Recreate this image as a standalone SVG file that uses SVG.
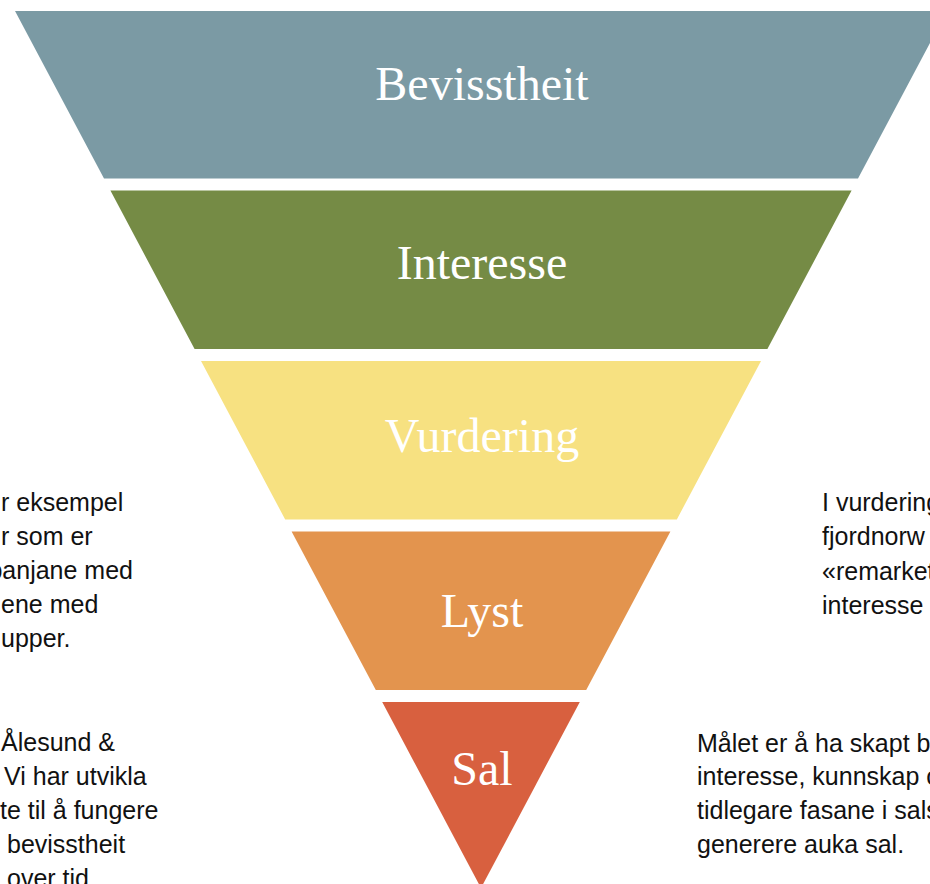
<svg xmlns="http://www.w3.org/2000/svg" width="930" height="884" viewBox="0 0 930 884">
<style>
.lbl{font-family:"Liberation Serif","Times New Roman",serif;font-size:48px;fill:#ffffff;text-anchor:middle}
.body{font-family:"Liberation Sans",Arial,sans-serif;font-size:25px;fill:#111111}
.end{text-anchor:end}
</style>
<rect x="0" y="0" width="930" height="884" fill="#ffffff"/>
<g id="bevisstheit">
<polygon points="15,11 947,11 858,178.5 104,178.5" fill="#7B9AA4"/>
<text class="lbl" x="482" y="100">Bevisstheit</text>
</g>
<g id="interesse">
<polygon points="110.4,190.5 851.6,190.5 767.4,349 194.6,349" fill="#758B45"/>
<text class="lbl" x="482" y="279">Interesse</text>
</g>
<g id="vurdering">
<polygon points="201,361 761,361 676.8,519.5 285.2,519.5" fill="#F7E181"/>
<text class="lbl" x="482" y="452">Vurdering</text>
</g>
<g id="lyst">
<polygon points="291.6,531.5 670.4,531.5 586.2,690 375.8,690" fill="#E3944E"/>
<text class="lbl" x="482" y="627">Lyst</text>
</g>
<g id="sal">
<polygon points="382.2,702 579.8,702 481,888" fill="#D8603F"/>
<text class="lbl" x="482" y="785">Sal</text>
</g>
<g id="connectors"></g>
<g id="left-text-1">
<text class="body" x="1" y="511">r eksempel</text>
<text class="body" x="1" y="545">r som er</text>
<text class="body end" x="133" y="579">panjane med</text>
<text class="body" x="1" y="613">ene med</text>
<text class="body" x="1" y="647">upper.</text>
</g>
<g id="left-text-2">
<text class="body" x="1" y="751">Ålesund &amp;</text>
<text class="body" x="4" y="785">Vi har utvikla</text>
<text class="body" x="0" y="819">te til å fungere</text>
<text class="body" x="7" y="853">bevisstheit</text>
<text class="body" x="7" y="887">over tid</text>
</g>
<g id="right-text-1">
<text class="body" x="822" y="511">I vurdering</text>
<text class="body" x="822" y="545">fjordnorw</text>
<text class="body" x="822" y="580">«remarket</text>
<text class="body" x="822" y="614">interesse</text>
</g>
<g id="right-text-2">
<text class="body" x="697" y="752">Målet er å ha skapt b</text>
<text class="body" x="697" y="785">interesse, kunnskap o</text>
<text class="body" x="697" y="819">tidlegare fasane i sals</text>
<text class="body" x="697" y="853">generere auka sal.</text>
</g>
</svg>
